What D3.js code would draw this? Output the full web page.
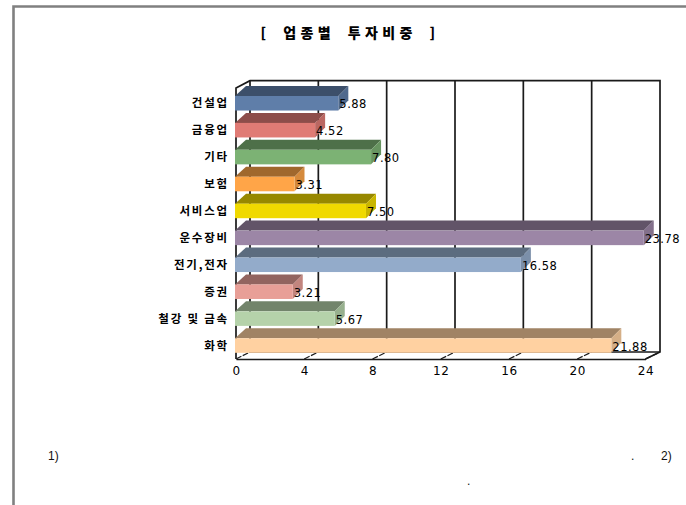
<!DOCTYPE html>
<html>
<head>
<meta charset="utf-8">
<script src="https://cdnjs.cloudflare.com/ajax/libs/d3/7.8.5/d3.min.js"></script>
<style>
  html, body { margin: 0; padding: 0; background: #fff; }
  svg { display: block; }
  .kr { font-family: "Noto Sans CJK KR", sans-serif; font-weight: 700; fill: #000; }
  .num { font-family: "DejaVu Sans", sans-serif; fill: #000; }
  .note { font-family: "Liberation Sans", Arial, sans-serif; font-size: 12px; fill: #111; }
</style>
</head>
<body>
<div id="chart"></div>
<script>
// values
var categories = ['건설업', '금융업', '기타', '보험', '서비스업', '운수장비', '전기,전자', '증권', '철강 및 금속', '화학'];
var shares = [5.88, 4.52, 7.80, 3.31, 7.50, 23.78, 16.58, 3.21, 5.67, 21.88];
var barColors = ['#5f7ea9', '#e07b75', '#7cb274', '#ffa548', '#f0d900', '#9c86a6', '#93abca', '#e89f97', '#b5d2aa', '#ffd1a1'];
var xTicks = [0, 4, 8, 12, 16, 20, 24];

var WIDTH = 686, HEIGHT = 505;
var svg = d3.select('#chart').append('svg').attr('width', WIDTH).attr('height', HEIGHT);

// page frame, only top and left are visible
svg.append('path').attr('d', 'M13.5,505V6.5H686').attr('fill', 'none').attr('stroke', '#808080').attr('stroke-width', 2.6);

svg.append('text').attr('class', 'kr').attr('x', 350).attr('y', 38).attr('text-anchor', 'middle')
  .style('font-size', '14px').style('font-weight', 900).style('letter-spacing', '4.4px').style('word-spacing', '5px')
  .text('[ 업종별 투자비중 ]');

// front plane and back wall of the fake 3D box
var x = d3.scaleLinear().domain([0, 24]).range([236, 645.5]);
var xBack = d3.scaleLinear().domain([0, 24]).range([250, 660]);
var y = d3.scaleBand().domain(categories).range([89.8, 359]).paddingInner(0.46).paddingOuter(0.23);
var top_ = 80.7, floorBack = 352, floorFront = 359, frontTop = 88;
var lineColor = '#1a1a1a';
var depth = 10; // bars are shifted this much up and right
var barNudge = 2;

var frame = svg.append('g').attr('fill', 'none').attr('stroke', lineColor).attr('stroke-width', 1.7);
frame.append('path').attr('d', d3.line()([[x(0), floorFront], [x(0), frontTop], [xBack(0), top_], [xBack(24), top_], [xBack(24), floorBack], [x(24), floorFront]]));
frame.append('path').attr('d', d3.line()([[xBack(0), top_], [xBack(0), floorBack], [xBack(24), floorBack]]));

frame.selectAll('.grid').data(xTicks.slice(1, -1)).enter().append('line')
  .attr('x1', function(d) { return xBack(d); })
  .attr('x2', function(d) { return xBack(d); })
  .attr('y1', top_).attr('y2', floorBack);

// diagonal dashes on the floor
frame.selectAll('.floor').data(xTicks).enter().append('line')
  .attr('x1', function(d) { return x(d); })
  .attr('x2', function(d) { return xBack(d); })
  .attr('y1', floorFront).attr('y2', floorBack)
  .attr('stroke-width', 1.2)
  .attr('stroke-dasharray', '6 1.5');

// bars
var bars = svg.selectAll('.bar').data(categories).enter().append('g').attr('class', 'bar');

function barEnd(i) { return x(shares[i]) + barNudge; }

bars.append('polygon') // top face
  .attr('fill', function(d, i) { return d3.rgb(barColors[i]).darker(1.3); })
  .attr('points', function(d, i) {
    var t = y(d), e = barEnd(i);
    return [[x(0) - 1, t], [x(0) + depth, t - depth], [e + depth, t - depth], [e, t]].join(' ');
  });

bars.append('polygon') // side face
  .attr('fill', function(d, i) { return d3.rgb(barColors[i]).darker(0.5); })
  .attr('points', function(d, i) {
    var t = y(d), b = t + y.bandwidth(), e = barEnd(i);
    return [[e, t], [e + depth, t - depth], [e + depth, b - depth], [e, b]].join(' ');
  });

bars.append('rect') // front face covers the wall line
  .attr('fill', function(d, i) { return barColors[i]; })
  .attr('x', x(0) - 1)
  .attr('y', function(d) { return y(d); })
  .attr('width', function(d, i) { return barEnd(i) - x(0) + 1; })
  .attr('height', y.bandwidth());

// value labels
svg.selectAll('.val').data(categories).enter().append('text')
  .attr('class', 'num')
  .attr('x', function(d, i) { return barEnd(i) + 1; })
  .attr('y', function(d) { return y(d) + y.bandwidth() / 2 + 5; })
  .style('font-size', '11.5px')
  .style('letter-spacing', '0.5px')
  .text(function(d, i) { return shares[i].toFixed(2); });

// category labels
svg.selectAll('.cat').data(categories).enter().append('text')
  .attr('class', 'kr')
  .attr('x', 229)
  .attr('y', function(d) { return y(d) + y.bandwidth() / 2 + 4; })
  .attr('text-anchor', 'end')
  .style('font-size', '11.5px')
  .style('letter-spacing', '1.8px')
  .text(function(d) { return d; });

// x axis
var xAxis = d3.axisBottom(x).tickValues(xTicks).tickSize(0).tickPadding(7);
var axisG = svg.append('g').attr('transform', 'translate(0,' + floorFront + ')').call(xAxis);
axisG.select('.domain').attr('stroke', lineColor).attr('stroke-width', 1.7);
axisG.selectAll('text').attr('class', 'num').style('font-size', '12px').style('letter-spacing', '0.5px');

// footnotes, only the digits and stops survive in the picture
var notes = [['1)', 48, 460], ['.', 631, 460], ['2)', 661, 460], ['.', 467, 485]];
svg.selectAll('.note').data(notes).enter().append('text')
  .attr('class', 'note')
  .attr('x', function(d) { return d[1]; })
  .attr('y', function(d) { return d[2]; })
  .text(function(d) { return d[0]; });
</script>
</body>
</html>
